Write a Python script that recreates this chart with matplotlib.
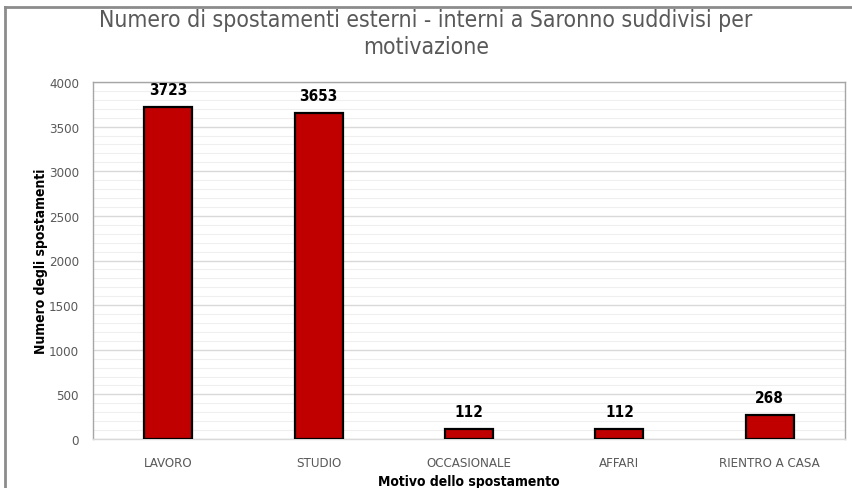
import matplotlib.pyplot as plt
from matplotlib.lines import Line2D
from matplotlib.ticker import MultipleLocator

plt.rcParams['font.family'] = 'DejaVu Sans'
plt.rcParams['font.stretch'] = 'condensed'

# data
categories = ['LAVORO', 'STUDIO', 'OCCASIONALE', 'AFFARI', 'RIENTRO A CASA']
values = [3723, 3653, 112, 112, 268]

fig = plt.figure(figsize=(8.52, 4.89), dpi=100)
ax = fig.add_axes([93 / 852, 1 - 440 / 489, 752 / 852, 357 / 489])

x = range(len(categories))
bars = ax.bar(x, values, width=0.32, color='#C00000', edgecolor='black', linewidth=1.6, zorder=3)

for xi, v in zip(x, values):
    ax.text(xi, v + 110, str(v), ha='center', va='bottom', fontsize=11,
            fontweight='bold', color='black')

ax.set_xlim(-0.5, len(categories) - 0.5)
ax.set_ylim(0, 4000)
ax.yaxis.set_major_locator(MultipleLocator(500))
ax.yaxis.set_minor_locator(MultipleLocator(100))
ax.grid(True, which='major', axis='y', color='#d9d9d9', linewidth=1, zorder=0)
ax.grid(True, which='minor', axis='y', color='#efefef', linewidth=0.8, zorder=0)
ax.set_xticks(list(x))
ax.set_xticklabels(categories)
ax.tick_params(axis='both', which='both', length=0, labelsize=9.5, labelcolor='#595959')
ax.tick_params(axis='x', pad=12)
ax.tick_params(axis='y', pad=10)
for s in ax.spines.values():
    s.set_color('#a6a6a6')
    s.set_linewidth(1)
ax.spines['bottom'].set_color('#d9d9d9')

ax.set_ylabel('Numero degli spostamenti', fontsize=10, fontweight='bold', color='black', labelpad=1)
ax.set_xlabel('Motivo dello spostamento', fontsize=10, fontweight='bold', color='black', labelpad=4)

fig.text(0.5, 1 - 20 / 489, 'Numero di spostamenti esterni - interni a Saronno suddivisi per',
         ha='center', va='center', fontsize=16.5, color='#595959')
fig.text(0.5, 1 - 48 / 489, 'motivazione', ha='center', va='center', fontsize=16.5, color='#595959')

# outer chart frame (cropped at right and bottom)
fig.add_artist(Line2D([5 / 852, 1], [1 - 8 / 489, 1 - 8 / 489], color='#8c8c8c', linewidth=2,
                      transform=fig.transFigure))
fig.add_artist(Line2D([5 / 852, 5 / 852], [0, 1 - 8 / 489], color='#8c8c8c', linewidth=2,
                      transform=fig.transFigure))

plt.savefig('out.png', dpi=100, facecolor='white')
